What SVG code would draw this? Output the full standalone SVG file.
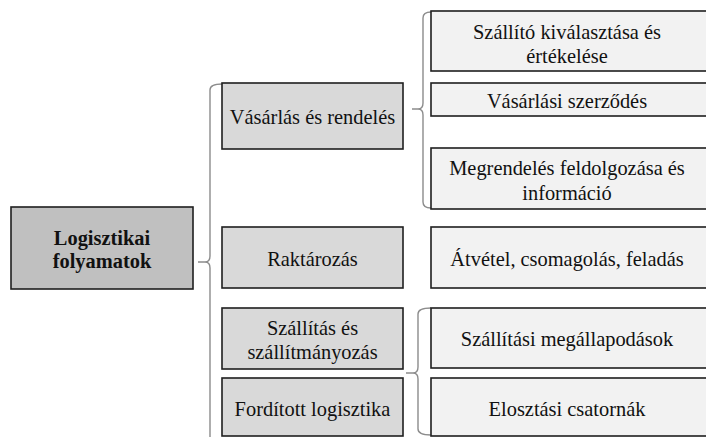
<svg xmlns="http://www.w3.org/2000/svg" width="706" height="437" viewBox="0 0 706 437">
<style>
.box{stroke:#1f1f1f;stroke-width:1.6}
.l0{fill:#c0c0c0}
.l1{fill:#d9d9d9}
.l2{fill:#f2f2f2}
.br{fill:none;stroke:#8c8c8c;stroke-width:1.4}
.t{font-family:"Liberation Serif",serif;font-size:20.4px;fill:#111;text-anchor:middle}
</style>
<rect width="706" height="437" fill="#fff"/>
<g id="connectors">
<path class="br" d="M222,84 Q210,84 210,90 L210,256 Q210,262 205,262 L198,262 M205,262 Q210,262 210,268 L210,440"/>
<path class="br" d="M431,12 Q423,12 423,18 L423,103 Q423,109 418,109 L412,109 M418,109 Q423,109 423,115 L423,202 Q423,208 431,208"/>
<path class="br" d="M431,308 Q418,308 418,314 L418,367 Q418,373 413,373 L406,373 M413,373 Q418,373 418,379 L418,429 Q418,435 431,435"/>
</g>
<g id="n-logisztikai">
<rect class="box l0" x="11" y="207" width="182" height="82"/>
<text class="t" font-weight="bold" x="102" y="245">Logisztikai</text>
<text class="t" font-weight="bold" x="102" y="268">folyamatok</text>
</g>
<g id="n-vasarlas">
<rect class="box l1" x="222" y="83" width="181" height="66"/>
<text class="t" x="312.5" y="124">Vásárlás és rendelés</text>
</g>
<g id="n-raktarozas">
<rect class="box l1" x="222" y="227" width="181" height="61"/>
<text class="t" x="312.5" y="266">Raktározás</text>
</g>
<g id="n-szallitas">
<rect class="box l1" x="222" y="308" width="181" height="61"/>
<text class="t" x="312.5" y="335">Szállítás és</text>
<text class="t" x="312.5" y="359">szállítmányozás</text>
</g>
<g id="n-forditott">
<rect class="box l1" x="222" y="378" width="181" height="58"/>
<text class="t" x="312.5" y="416">Fordított logisztika</text>
</g>
<g id="n-szallito">
<rect class="box l2" x="431" y="11" width="280" height="60"/>
<text class="t" x="567" y="39">Szállító kiválasztása és</text>
<text class="t" x="567" y="63">értékelése</text>
</g>
<g id="n-szerzodes">
<rect class="box l2" x="431" y="83" width="280" height="33"/>
<text class="t" x="567" y="108">Vásárlási szerződés</text>
</g>
<g id="n-megrendeles">
<rect class="box l2" x="431" y="148" width="280" height="61"/>
<text class="t" x="567" y="175">Megrendelés feldolgozása és</text>
<text class="t" x="567" y="200">információ</text>
</g>
<g id="n-atvetel">
<rect class="box l2" x="431" y="227" width="280" height="61"/>
<text class="t" x="567" y="266">Átvétel, csomagolás, feladás</text>
</g>
<g id="n-megallapodasok">
<rect class="box l2" x="431" y="308" width="280" height="60"/>
<text class="t" x="567" y="346">Szállítási megállapodások</text>
</g>
<g id="n-elosztasi">
<rect class="box l2" x="431" y="378" width="280" height="58"/>
<text class="t" x="567" y="416">Elosztási csatornák</text>
</g>
</svg>
